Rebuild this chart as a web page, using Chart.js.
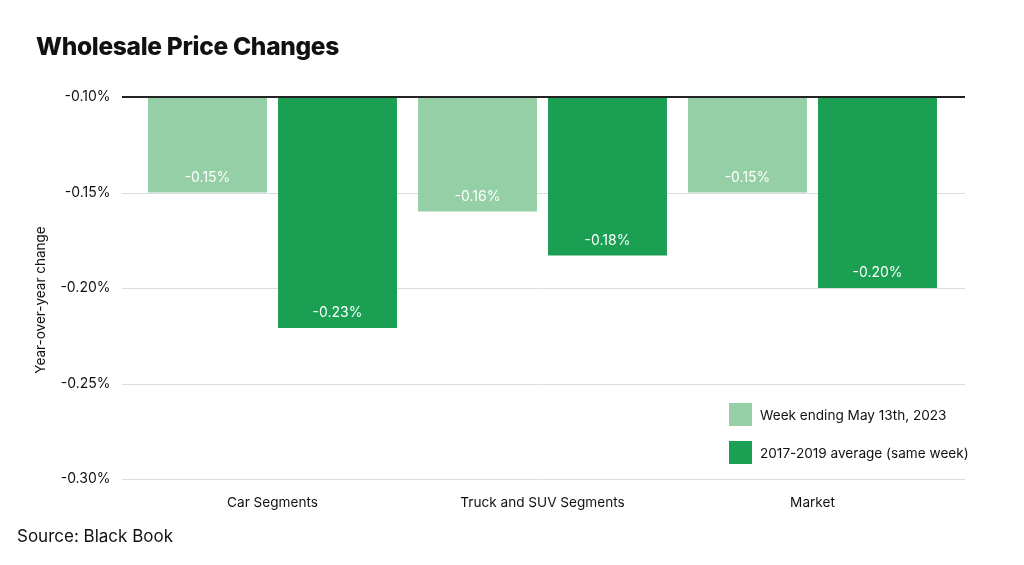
<!DOCTYPE html>
<html>
<head>
<meta charset="utf-8">
<script src="https://cdn.jsdelivr.net/npm/chart.js@4/dist/chart.umd.min.js"></script>
<style>
  html, body { margin: 0; padding: 0; background: #fff; }
  #wrap { position: relative; width: 1024px; height: 565px; font-family: Inter, "Noto Sans", sans-serif; color: #111; }
  #title { position: absolute; left: 36px; top: 31px; font-size: 24.5px; font-weight: 800; letter-spacing: -0.3px; }
  #source { position: absolute; left: 17px; top: 526px; font-size: 17px; font-weight: 400; }
  #legend { position: absolute; left: 729px; top: 403px; font-size: 13.6px; }
  .lg { display: flex; align-items: center; height: 23px; margin-bottom: 15px; }
  .lg span.box { width: 23px; height: 23px; margin-right: 8px; display: inline-block; }
  canvas { position: absolute; left: 0; top: 0; }
</style>
</head>
<body>
<div id="wrap">
  <canvas id="c" width="1024" height="565"></canvas>
  <div id="title">Wholesale Price Changes</div>
  <div id="source">Source: Black Book</div>
  <div id="legend"></div>
</div>
<script>
const categories = ["Car Segments", "Truck and SUV Segments", "Market"];
const seriesNames = ["Week ending May 13th, 2023", "2017-2019 average (same week)"];
const weekValues = [-0.150, -0.160, -0.150];
const avgValues = [-0.221, -0.183, -0.200];
const weekLabels = ["-0.15%", "-0.16%", "-0.15%"];
const avgLabels = ["-0.23%", "-0.18%", "-0.20%"];
const yTicks = [-0.10, -0.15, -0.20, -0.25, -0.30];
const yTitle = "Year-over-year change";
const colors = ["#95CFA6", "#1B9F52"];

const FONT = 'Inter, "Noto Sans", sans-serif';

const gridPlugin = {
  id: 'gridPlugin',
  beforeDatasetsDraw(chart) {
    const ctx = chart.ctx, y = chart.scales.y;
    ctx.save();
    yTicks.forEach(v => {
      if (v === -0.10) return;
      const py = Math.round(y.getPixelForValue(v)) + 0.5;
      ctx.strokeStyle = '#dcdcdc'; ctx.lineWidth = 1;
      ctx.beginPath(); ctx.moveTo(122, py); ctx.lineTo(965, py); ctx.stroke();
    });
    ctx.restore();
  },
  afterDatasetsDraw(chart) {
    const ctx = chart.ctx, y = chart.scales.y;
    ctx.save();
    const py = y.getPixelForValue(-0.10);
    ctx.strokeStyle = '#222'; ctx.lineWidth = 2;
    ctx.beginPath(); ctx.moveTo(122, py); ctx.lineTo(965, py); ctx.stroke();
    const lbls = [weekLabels, avgLabels];
    ctx.fillStyle = '#ffffff';
    ctx.font = '14px ' + FONT;
    ctx.textAlign = 'center'; ctx.textBaseline = 'middle';
    chart.data.datasets.forEach((ds, di) => {
      chart.getDatasetMeta(di).data.forEach((bar, i) => {
        ctx.fillText(lbls[di][i], bar.x, bar.y - 15);
      });
    });
    ctx.fillStyle = '#111';
    ctx.translate(41, 300);
    ctx.rotate(-Math.PI / 2);
    ctx.font = '13.5px ' + FONT;
    ctx.fillText(yTitle, 0, 0);
    ctx.restore();
  }
};

new Chart(document.getElementById('c'), {
  type: 'bar',
  data: {
    labels: categories,
    datasets: [
      { label: seriesNames[0], data: weekValues, backgroundColor: colors[0], base: -0.10 },
      { label: seriesNames[1], data: avgValues, backgroundColor: colors[1], base: -0.10 }
    ]
  },
  options: {
    responsive: false,
    animation: false,
    devicePixelRatio: 1,
    layout: { padding: { top: 97, right: 76.5, left: 0, bottom: 0 } },
    datasets: { bar: { categoryPercentage: 0.963, barPercentage: 0.915 } },
    plugins: { legend: { display: false }, tooltip: { enabled: false } },
    scales: {
      x: {
        grid: { display: false }, border: { display: false },
        ticks: { color: '#111', font: { family: FONT, size: 13.6 }, padding: 8 },
        afterFit(s) { s.height = 86; }
      },
      y: {
        min: -0.30, max: -0.10,
        afterBuildTicks(s) { s.ticks = yTicks.map(v => ({ value: v })); },
        grid: { display: false }, border: { display: false },
        ticks: {
          color: '#111', font: { family: FONT, size: 14 }, padding: 19,
          callback: v => v.toFixed(2) + '%'
        },
        afterFit(s) { s.width = 137.5; }
      }
    }
  },
  plugins: [gridPlugin]
});

const lg = document.getElementById('legend');
seriesNames.forEach((n, i) => {
  const row = document.createElement('div'); row.className = 'lg';
  const b = document.createElement('span'); b.className = 'box'; b.style.background = colors[i];
  const t = document.createElement('span'); t.textContent = n;
  row.appendChild(b); row.appendChild(t); lg.appendChild(row);
});
</script>
</body>
</html>
